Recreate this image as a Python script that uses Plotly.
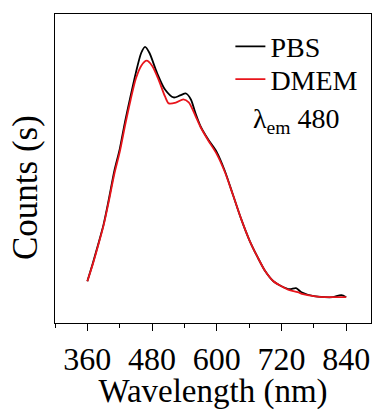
import plotly.graph_objects as go

# Wavelength (nm) and counts (arbitrary units)
pbs_wl = [360, 370, 380, 390, 400, 410, 420, 430, 440, 450, 460, 467, 475, 489, 504, 520, 532, 543, 552, 560,
          570, 585, 600, 615, 630, 645, 660, 675, 690, 705, 720, 735, 747, 757, 780, 800, 815, 831, 840]
pbs_counts = [42, 60, 79, 99, 125, 153, 175, 203, 228, 252, 272, 278, 272, 252, 235, 227, 229, 231, 225, 212,
              198, 184, 172, 153, 129, 105, 84, 67, 52, 42, 37, 34, 35, 31, 27, 26, 26, 28, 26]

dmem_wl = [360, 370, 380, 390, 400, 410, 420, 430, 440, 450, 460, 470, 480, 492, 504, 511, 525, 538, 548, 560,
           570, 585, 600, 615, 630, 645, 660, 675, 690, 705, 720, 735, 750, 760, 780, 800, 815, 831, 840]
dmem_counts = [42, 59, 78, 98, 123, 150, 172, 199, 224, 246, 259, 264, 259, 245, 228, 221, 222, 225, 222, 209,
               197, 183, 170, 152, 129, 105, 84, 67, 52, 42, 37, 33, 31, 29, 27, 26, 26, 26, 26]

x_ticks = [360, 480, 600, 720, 840]
x_range = [300, 886]
y_range = [0, 311]

FONT = "Liberation Serif, Times New Roman, serif"

fig = go.Figure()
fig.add_trace(go.Scatter(x=pbs_wl, y=pbs_counts, mode="lines", name="PBS", legend="legend",
                         line=dict(color="black", width=1.8, shape="spline", smoothing=0.8)))
fig.add_trace(go.Scatter(x=dmem_wl, y=dmem_counts, mode="lines", name="DMEM", legend="legend2",
                         line=dict(color="#e8141b", width=1.8, shape="spline", smoothing=0.8)))

leg_common = dict(xanchor="left", yanchor="middle", bgcolor="rgba(0,0,0,0)",
                  font=dict(size=28, family=FONT, color="black"), itemwidth=30)

fig.update_layout(
    width=380, height=410,
    margin=dict(l=55, r=8, t=14, b=85),
    paper_bgcolor="white", plot_bgcolor="white",
    font=dict(family=FONT, color="black"),
    showlegend=True,
    legend=dict(x=0.555, y=0.894, **leg_common),
    legend2=dict(x=0.555, y=0.788, **leg_common),
    xaxis=dict(range=x_range, tickvals=x_ticks, ticks="outside", ticklen=7, tickwidth=1.3,
               tickcolor="black", showline=True, linecolor="black", linewidth=1.3, mirror=True,
               showgrid=False, zeroline=False,
               tickfont=dict(size=32, family=FONT, color="black"),
               minor=dict(dtick=60, tick0=360, ticks="outside", ticklen=4, tickwidth=1.2, tickcolor="black"),
               title=dict(text="Wavelength (nm)", font=dict(size=33, family=FONT, color="black"), standoff=2)),
    yaxis=dict(range=y_range, showticklabels=False, ticks="", showline=True, linecolor="black",
               linewidth=1.3, mirror=True, showgrid=False, zeroline=False),
    annotations=[
        dict(text="Counts (s)", xref="paper", yref="paper", x=-0.095, y=0.44, textangle=-90,
             showarrow=False, font=dict(size=35, family=FONT, color="black"),
             xanchor="center", yanchor="middle"),
        dict(text="λ<sub>em</sub> 480", xref="paper", yref="paper", x=0.765, y=0.655,
             showarrow=False, font=dict(size=28, family=FONT, color="black"),
             xanchor="center", yanchor="middle"),
    ],
)

fig.write_html("out.html")
